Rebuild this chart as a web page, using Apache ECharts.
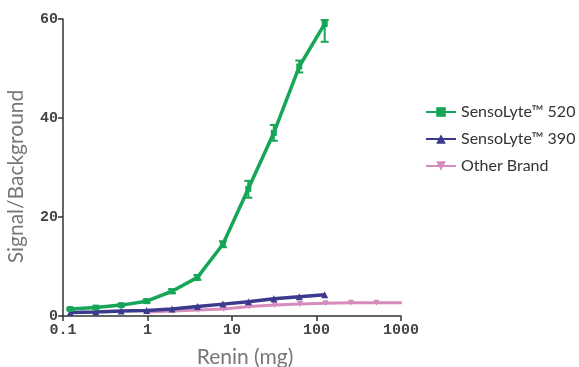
<!DOCTYPE html>
<html>
<head>
<meta charset="utf-8">
<script src="https://cdn.jsdelivr.net/npm/echarts@6/dist/echarts.min.js"></script>
<style>
  html, body { margin: 0; padding: 0; background: #fff; }
  #chart { width: 579px; height: 367px; }
</style>
</head>
<body>
<div id="chart"></div>
<script>
// renin amounts (mg), doubling dilutions
const reninA = [0.122, 0.244, 0.488, 0.977, 1.95, 3.9, 7.8, 15.6, 31.25, 62.5, 125];
const reninB = [1, 2, 4, 8, 16, 32, 64, 128, 256, 512, 1024];

const senso520 = [1.4, 1.7, 2.2, 3.0, 5.0, 7.8, 14.5, 25.7, 37.0, 50.4, 59.0];
const senso520ErrLow = [0.2, 0.2, 0.2, 0.3, 0.4, 0.5, 0.6, 1.8, 1.6, 1.2, 3.6];
const senso520ErrHigh = [0.2, 0.2, 0.2, 0.3, 0.4, 0.5, 0.6, 1.6, 1.6, 1.2, 0.8];
const senso390 = [0.7, 0.8, 1.0, 1.1, 1.4, 1.9, 2.4, 2.9, 3.5, 3.9, 4.3];
const otherBrand = [0.8, 1.0, 1.2, 1.4, 1.9, 2.2, 2.4, 2.6, 2.7, 2.7, 2.7];

const xTicks = ['0.1', '1', '10', '100', '1000'];
const yTicks = [0, 20, 40, 60];

const green = '#17a558';
const navy = '#3b3a8c';
const pink = '#d58cbd';

const pair = (xs, ys) => xs.map((x, i) => [x, ys[i]]);

const chart = echarts.init(document.getElementById('chart'));
chart.setOption({
  animation: false,
  grid: { left: 63, right: 178, top: 19, bottom: 51, outerBoundsMode: 'none', containLabel: false },
  legend: {
    orient: 'vertical',
    left: 420,
    top: 99,
    itemWidth: 30,
    itemHeight: 12,
    itemGap: 11,
    textStyle: { fontFamily: 'Lato', fontSize: 16, color: '#333' },
    data: ['SensoLyte™ 520', 'SensoLyte™ 390', 'Other Brand']
  },
  xAxis: {
    type: 'log',
    logBase: 10,
    min: 0.1,
    max: 1000,
    name: 'Renin (mg)',
    nameLocation: 'middle',
    nameGap: 31,
    nameTextStyle: { fontFamily: 'Lato', fontSize: 21, color: '#777', padding: [0, 0, 0, 26] },
    axisLine: { lineStyle: { color: '#333', width: 1.5 } },
    axisTick: { length: 5, lineStyle: { color: '#333', width: 1.5 } },
    axisLabel: {
      fontFamily: 'Liberation Mono', fontWeight: 'bold', fontSize: 15, color: '#444', margin: 7,
      formatter: v => {
        const k = Math.round(Math.log10(v)) + 1;
        return xTicks[k] !== undefined ? xTicks[k] : '';
      }
    },
    splitLine: { show: false },
    minorTick: { show: false }
  },
  yAxis: {
    type: 'value',
    min: yTicks[0],
    max: yTicks[yTicks.length - 1],
    interval: 20,
    name: 'Signal/Background',
    nameLocation: 'middle',
    nameGap: 36,
    nameTextStyle: { fontFamily: 'Lato', fontSize: 21, color: '#777', padding: [0, 18, 0, 0] },
    axisLine: { show: true, lineStyle: { color: '#333', width: 1.5 } },
    axisTick: { show: true, length: 5, lineStyle: { color: '#333', width: 1.5 } },
    axisLabel: { fontFamily: 'Liberation Mono', fontWeight: 'bold', fontSize: 15, color: '#444', margin: 5 },
    splitLine: { show: false }
  },
  series: [
    {
      name: 'Other Brand',
      type: 'line',
      data: pair(reninB, otherBrand),
      symbol: 'triangle',
      symbolRotate: 180,
      symbolSize: 6,
      lineStyle: { color: pink, width: 3 },
      itemStyle: { color: pink },
      z: 2
    },
    {
      name: 'SensoLyte™ 390',
      type: 'line',
      data: pair(reninA, senso390),
      symbol: 'triangle',
      symbolSize: 7,
      lineStyle: { color: navy, width: 3.5 },
      itemStyle: { color: navy },
      z: 3
    },
    {
      name: 'SensoLyte™ 520',
      type: 'line',
      data: pair(reninA, senso520),
      symbol: 'rect',
      symbolSize: 6,
      lineStyle: { color: green, width: 3.5 },
      itemStyle: { color: green },
      z: 4
    },
    {
      name: 'SensoLyte™ 520',
      type: 'custom',
      data: reninA.map((x, i) => [x, senso520[i] - senso520ErrLow[i], senso520[i] + senso520ErrHigh[i]]),
      renderItem: (params, api) => {
        const lo = api.coord([api.value(0), api.value(1)]);
        const hi = api.coord([api.value(0), api.value(2)]);
        const w = 4;
        const style = { stroke: green, lineWidth: 2 };
        return {
          type: 'group',
          children: [
            { type: 'line', shape: { x1: lo[0], y1: lo[1], x2: hi[0], y2: hi[1] }, style },
            { type: 'line', shape: { x1: lo[0] - w, y1: lo[1], x2: lo[0] + w, y2: lo[1] }, style },
            { type: 'line', shape: { x1: hi[0] - w, y1: hi[1], x2: hi[0] + w, y2: hi[1] }, style }
          ]
        };
      },
      z: 5
    }
  ]
});
</script>
</body>
</html>
